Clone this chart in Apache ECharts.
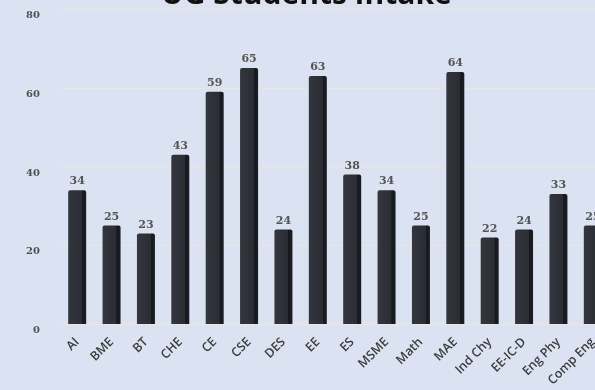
<!DOCTYPE html>
<html>
<head>
<meta charset="utf-8">
<script src="https://cdn.jsdelivr.net/npm/echarts@6/dist/echarts.min.js"></script>
<style>
html,body{margin:0;padding:0;background:#dbe3f2;}
#c{width:595px;height:390px;}
</style>
</head>
<body>
<div id="c"></div>
<script>
var categories = ['AI','BME','BT','CHE','CE','CSE','DES','EE','ES','MSME','Math','MAE','Ind Chy','EE-IC-D','Eng Phy','Comp Eng'];
var intake = [34,25,23,43,59,65,24,63,38,34,25,64,22,24,33,25];
var yTicks = [0,20,40,60,80];

var chart = echarts.init(document.getElementById('c'), null, {renderer:'canvas'});
chart.setOption({
  backgroundColor: '#dbe3f2',
  animation: false,
  title: {
    text: 'UG Students Intake',
    left: 156,
    top: -25,
    textStyle: {fontFamily: 'Open Sans', fontWeight: 'bold', fontSize: 30, color: '#111'}
  },
  grid: {left: 60, top: 9, bottom: 66, width: 550, containLabel: false, outerBoundsMode: 'none'},
  xAxis: {
    type: 'category',
    data: categories,
    axisLine: {show: false},
    axisTick: {show: false},
    axisLabel: {
      rotate: 45, margin: 16, interval: 0,
      fontFamily: 'Open Sans', fontSize: 12.5, fontWeight: 600, color: '#3c3c3c'
    }
  },
  yAxis: {
    type: 'value',
    min: yTicks[0], max: yTicks[yTicks.length-1], interval: 20,
    axisLine: {show: false},
    axisTick: {show: false},
    splitLine: {lineStyle: {color: '#ebe6da', width: 1}},
    axisLabel: {
      margin: 20, verticalAlign: 'top', lineHeight: 13,
      fontFamily: 'DejaVu Serif', fontSize: 10, fontWeight: 'bold', color: '#505050'
    }
  },
  series: [{
    type: 'bar',
    data: intake,
    barWidth: 18,
    itemStyle: {
      color: new echarts.graphic.LinearGradient(0,0,1,0,[
        {offset:0, color:'#34363e'},
        {offset:0.76, color:'#2b2d34'},
        {offset:0.78, color:'#18191d'},
        {offset:1, color:'#1c1d22'}
      ]),
      borderRadius: [2,2,0,0]
    },
    label: {
      show: true, position: 'top', distance: 3,
      fontFamily: 'DejaVu Serif', fontSize: 11, fontWeight: 'bold', color: '#555'
    }
  }]
});
</script>
</body>
</html>
